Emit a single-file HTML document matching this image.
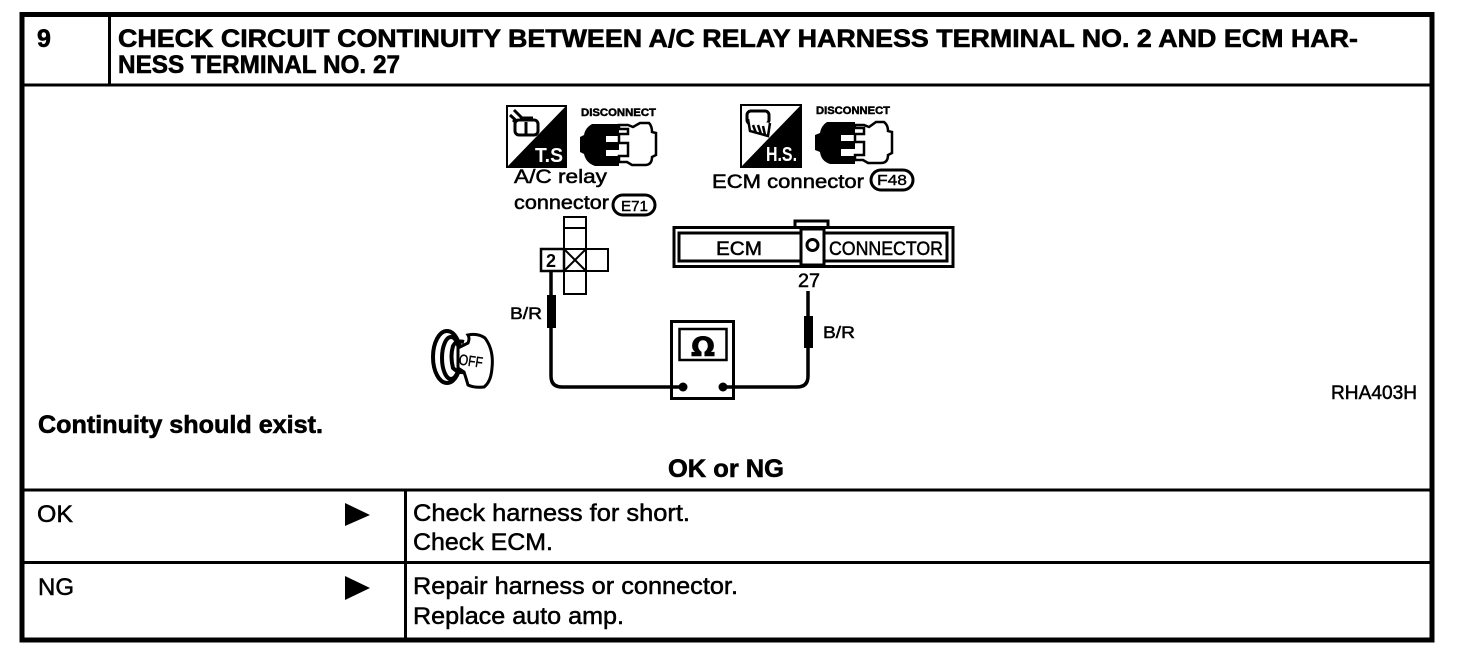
<!DOCTYPE html>
<html><head><meta charset="utf-8"><style>
html,body{margin:0;padding:0;background:#fff;width:1472px;height:668px;overflow:hidden}
svg{display:block}
text{font-family:"Liberation Sans",sans-serif;fill:#000}
.h{font-size:25px;font-weight:bold;stroke:#000;stroke-width:.6px}
.b{font-size:24px;stroke:#000;stroke-width:.5px}
.d{font-size:19px;stroke:#000;stroke-width:.5px}
.l{fill:none;stroke:#000}
</style></head><body>
<svg width="1472" height="668" viewBox="0 0 1472 668">
<!-- table -->
<rect x="22" y="14.500" width="1410" height="625.500" class="l" stroke-width="5"/>
<path d="M20 85H1432M20 490H1432M20 562.500H1432" class="l" stroke-width="3"/>
<path d="M109.500 15V85M405.500 490V640" class="l" stroke-width="3"/>
<text x="37" y="47" class="h">9</text>
<text x="118" y="47" class="h" textLength="1240" lengthAdjust="spacingAndGlyphs">CHECK CIRCUIT CONTINUITY BETWEEN A/C RELAY HARNESS TERMINAL NO. 2 AND ECM HAR-</text>
<text x="118" y="73" class="h" textLength="282" lengthAdjust="spacingAndGlyphs">NESS TERMINAL NO. 27</text>
<text x="38" y="433" class="h" textLength="285" lengthAdjust="spacingAndGlyphs">Continuity should exist.</text>
<text x="668" y="477" class="h" textLength="116" lengthAdjust="spacingAndGlyphs">OK or NG</text>
<text x="37" y="522" class="b" textLength="36" lengthAdjust="spacingAndGlyphs">OK</text>
<text x="38" y="595" class="b" textLength="36" lengthAdjust="spacingAndGlyphs">NG</text>
<path d="M345 503L370 515L345 526ZM345 576L370 588L345 600Z"/>
<text x="413" y="521" class="b" textLength="277" lengthAdjust="spacingAndGlyphs">Check harness for short.</text>
<text x="413" y="550" class="b" textLength="140" lengthAdjust="spacingAndGlyphs">Check ECM.</text>
<text x="413" y="594" class="b" textLength="325" lengthAdjust="spacingAndGlyphs">Repair harness or connector.</text>
<text x="413" y="624" class="b" textLength="211" lengthAdjust="spacingAndGlyphs">Replace auto amp.</text>
<text x="1331" y="399" class="d" textLength="86" lengthAdjust="spacingAndGlyphs">RHA403H</text>
<!-- T.S. icon -->
<rect x="507" y="106" width="59" height="61" class="l" stroke-width="2"/>
<path d="M566 106V167H507Z"/>
<path d="M514 110l11 11M510 115l11 10M513 120l8 7" class="l" stroke-width="3"/>
<rect x="515" y="120" width="23" height="15" rx="4" fill="#fff" stroke="#000" stroke-width="3"/>
<path d="M526 122v13M520 118h13" class="l" stroke-width="3"/>
<text x="535" y="162" font-size="20" font-weight="bold" style="fill:#fff" textLength="28" lengthAdjust="spacingAndGlyphs">T.S</text>
<!-- disconnect 1 -->
<text x="581" y="116" font-size="11" font-weight="bold" stroke="#000" stroke-width=".5" textLength="75" lengthAdjust="spacingAndGlyphs">DISCONNECT</text>
<path d="M619 124H592Q585 128 584 135L580 137V152L584 154Q586 163 595 166H619V156H606V150H619V142H606V136H619Z"/>
<path d="M619 125H628L633 127L640 123H649Q652 126 652 132L656 133V155L652 157Q652 165 645 165H632L627 162H619V156H628V143H619V134H628V129H619Z" fill="#fff" stroke="#000" stroke-width="2.500"/>
<!-- H.S. icon -->
<rect x="741" y="105" width="60" height="62" class="l" stroke-width="2"/>
<path d="M801 105V167H741Z"/>
<rect x="747" y="111" width="22" height="13" rx="4" fill="#fff" stroke="#000" stroke-width="3"/>
<path d="M748 119l2 12 18 5 2-13M753 125l3 8M758 125l3 9M763 126l2 9" fill="#fff" stroke="#000" stroke-width="2.500"/>
<text x="766" y="161" font-size="20" font-weight="bold" style="fill:#fff" textLength="31" lengthAdjust="spacingAndGlyphs">H.S.</text>
<!-- disconnect 2 -->
<text x="816" y="114" font-size="11" font-weight="bold" stroke="#000" stroke-width=".5" textLength="74" lengthAdjust="spacingAndGlyphs">DISCONNECT</text>
<path d="M855 122H827Q821 126 820 133L815 135V150L820 152Q821 161 830 164H855V156H841V149H855V141H841V135H855Z"/>
<path d="M855 125H864L869 127L876 122H884Q888 125 888 131L892 132V153L888 155Q888 163 881 163H868L863 160H855V155H864V142H855V134H864V128H855Z" fill="#fff" stroke="#000" stroke-width="2.500"/>
<!-- labels -->
<text x="514" y="183" class="d" textLength="93" lengthAdjust="spacingAndGlyphs">A/C  relay</text>
<text x="514" y="209" class="d" textLength="95" lengthAdjust="spacingAndGlyphs">connector</text>
<rect x="613" y="195" width="42" height="20" rx="10" class="l" stroke-width="3"/>
<text x="621" y="211" font-size="15" stroke="#000" stroke-width=".4" textLength="27" lengthAdjust="spacingAndGlyphs">E71</text>
<text x="712" y="188" class="d" textLength="152" lengthAdjust="spacingAndGlyphs">ECM  connector</text>
<rect x="871" y="170" width="42" height="20" rx="10" class="l" stroke-width="3"/>
<text x="877" y="185" font-size="15" stroke="#000" stroke-width=".4" textLength="30" lengthAdjust="spacingAndGlyphs">F48</text>
<!-- relay connector -->
<path d="M564 217H586V294H564ZM564 228H586M564 249H608V271H541V249H564" class="l" stroke-width="2"/>
<path d="M564 249L586 271M586 249L564 271M564 249V271M586 249V271" class="l" stroke-width="2"/>
<rect x="541" y="249" width="23" height="22" fill="#fff" stroke="#000" stroke-width="2.500"/>
<text x="546" y="267" font-size="18" font-weight="bold">2</text>
<!-- ECM connector -->
<path d="M795 226V221H828V226" class="l" stroke-width="3"/>
<rect x="674" y="227.500" width="279" height="39" class="l" stroke-width="3"/>
<rect x="679" y="233" width="268" height="28" class="l" stroke-width="3"/>
<rect x="801" y="229" width="23" height="36" fill="#fff" stroke="#000" stroke-width="3"/>
<circle cx="812.500" cy="245" r="5.500" class="l" stroke-width="3"/>
<text x="716" y="255" class="d" textLength="46" lengthAdjust="spacingAndGlyphs">ECM</text>
<text x="829" y="255" class="d" textLength="114" lengthAdjust="spacingAndGlyphs">CONNECTOR</text>
<text x="798" y="287" class="d" textLength="22" lengthAdjust="spacingAndGlyphs">27</text>
<!-- wires -->
<path d="M551 272V376Q551 387 562 387H681M808 291V376Q808 387 797 387H723" class="l" stroke-width="3.500"/>
<rect x="547" y="295" width="9" height="33"/>
<rect x="804" y="316" width="9" height="32"/>
<text x="510" y="319" font-size="17" stroke="#000" stroke-width=".5" textLength="32" lengthAdjust="spacingAndGlyphs">B/R</text>
<text x="823" y="338" font-size="17" stroke="#000" stroke-width=".5" textLength="32" lengthAdjust="spacingAndGlyphs">B/R</text>
<!-- meter -->
<rect x="671.500" y="321.500" width="62" height="77" class="l" stroke-width="3"/>
<rect x="679.500" y="329" width="47" height="31" class="l" stroke-width="2.500"/>
<text x="691" y="356" font-size="27" font-weight="bold" stroke="#000" stroke-width=".6" style="font-family:'DejaVu Sans',sans-serif" textLength="24" lengthAdjust="spacingAndGlyphs">Ω</text>
<circle cx="683" cy="387" r="4.500"/><circle cx="723" cy="387" r="4.500"/>
<!-- key -->
<ellipse cx="447" cy="357" rx="14" ry="26" class="l" stroke-width="4"/>
<ellipse cx="451" cy="358" rx="9" ry="21" class="l" stroke-width="4"/>
<path d="M464 342Q456 340 453 346Q450 356 453 368Q458 373 464 372" class="l" stroke-width="4"/>
<path d="M468 335Q478 333 485 338Q494 350 492 368Q491 382 484 387Q474 388 468 385Q466 378 464 372L458 368V348L468 343Q470 338 468 335Z" fill="#fff" stroke="#000" stroke-width="3"/>
<text x="459" y="366" font-size="15" textLength="24" lengthAdjust="spacingAndGlyphs" stroke="#000" stroke-width=".4" transform="rotate(8 470 360)">OFF</text>
</svg>
</body></html>
